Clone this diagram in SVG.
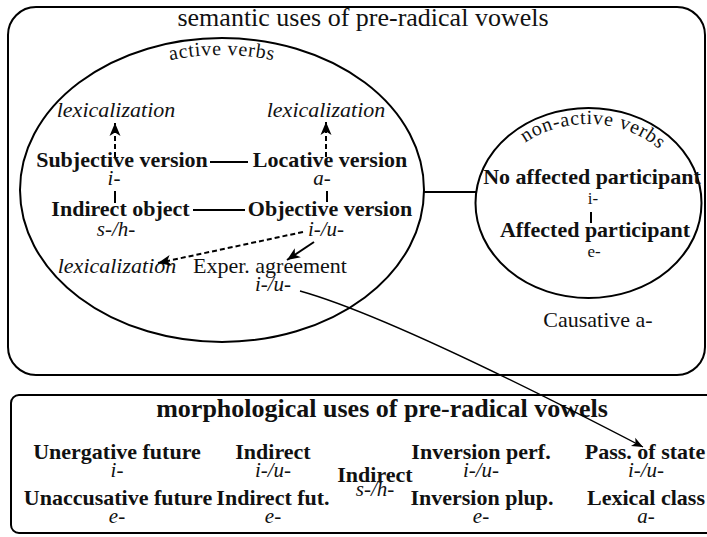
<svg xmlns="http://www.w3.org/2000/svg" width="707" height="537" viewBox="0 0 707 537">
<style>
text{font-family:"Liberation Serif","Times New Roman",serif;fill:#111;text-anchor:middle}
.b{font-weight:bold;font-size:22px}
.i{font-style:italic;font-size:22px}
.r{font-size:22px}
.s{font-size:17px}
.sub{font-style:italic;font-size:21px}
.title{font-size:26px}
.arc{font-size:20px;letter-spacing:0.7px}
.frame{fill:none;stroke:#000;stroke-width:2}
.edge{fill:none;stroke:#000;stroke-width:2}
.dash{stroke-dasharray:5 3}
.curve{fill:none;stroke:#000;stroke-width:1.3}
</style>
<defs>
<marker id="ah" viewBox="-14 -7 15 14" refX="0" refY="0" markerWidth="15" markerHeight="14" orient="auto" markerUnits="userSpaceOnUse"><path d="M0,0 L-13,-5.5 L-9.5,0 L-13,5.5 Z" fill="#000"/></marker>
<marker id="ahs" viewBox="-14 -7 15 14" refX="0" refY="0" markerWidth="14" markerHeight="13" orient="auto" markerUnits="userSpaceOnUse"><path d="M0,0 L-12,-5 L-9,0 L-12,5 Z" fill="#000"/></marker>
<path id="arcA" d="M 36,190 A 186,135 0 0 1 408,190"/>
<path id="arcN" d="M 491,203 A 97,79 0 0 1 685,203"/>
</defs>

<g id="semantic-uses">
<rect class="frame" x="8" y="7" width="697" height="368" rx="28" ry="28"/>
<text class="title" x="363" y="26">semantic uses of pre-radical vowels</text>
</g>

<g id="active-verbs">
<ellipse class="frame" cx="222" cy="190" rx="202" ry="152"/>
<text class="arc"><textPath href="#arcA" startOffset="50%">active verbs</textPath></text>
</g>

<g id="non-active-verbs">
<ellipse class="frame" cx="588.5" cy="203" rx="113" ry="95"/>
<text class="arc"><textPath href="#arcN" startOffset="52%">non-active verbs</textPath></text>
</g>

<g id="lexicalization-1"><text class="i" x="116" y="117">lexicalization</text></g>
<g id="lexicalization-2"><text class="i" x="326" y="117">lexicalization</text></g>
<g id="subjective-version">
<text class="b" x="122" y="167">Subjective version</text>
<text class="sub" x="114" y="185">i-</text>
</g>
<g id="locative-version">
<text class="b" x="330" y="167">Locative version</text>
<text class="sub" x="322" y="185">a-</text>
</g>
<g id="indirect-object">
<text class="b" x="120.5" y="216">Indirect object</text>
<text class="sub" x="116" y="236">s-/h-</text>
</g>
<g id="objective-version">
<text class="b" x="330" y="216">Objective version</text>
<text class="sub" x="326" y="236">i-/u-</text>
</g>
<g id="lexicalization-3"><text class="i" x="117" y="273">lexicalization</text></g>
<g id="exper-agreement">
<text class="r" x="270" y="273">Exper. agreement</text>
<text class="sub" x="273" y="291">i-/u-</text>
</g>
<g id="no-affected-participant">
<text class="b" x="592" y="184">No affected participant</text>
<text class="s" x="593" y="204">i-</text>
</g>
<g id="affected-participant">
<text class="b" x="595" y="237">Affected participant</text>
<text class="s" x="594" y="257">e-</text>
</g>
<g id="causative"><text class="r" x="598" y="327">Causative a-</text></g>

<g id="morphological-uses">
<rect class="frame" x="11" y="395" width="712" height="138" rx="8" ry="8"/>
<text class="title" style="font-weight:bold" x="382" y="417">morphological uses of pre-radical vowels</text>
</g>
<g id="unergative-future">
<text class="b" x="117" y="459">Unergative future</text>
<text class="sub" x="117" y="477">i-</text>
</g>
<g id="unaccusative-future">
<text class="b" x="118" y="505">Unaccusative future</text>
<text class="sub" x="117" y="523">e-</text>
</g>
<g id="indirect">
<text class="b" x="273" y="459">Indirect</text>
<text class="sub" x="273" y="477">i-/u-</text>
</g>
<g id="indirect-fut">
<text class="b" x="273" y="505">Indirect fut.</text>
<text class="sub" x="273" y="523">e-</text>
</g>
<g id="indirect-sh">
<text class="b" x="375" y="482">Indirect</text>
<text class="sub" x="375" y="496">s-/h-</text>
</g>
<g id="inversion-perf">
<text class="b" x="481" y="459">Inversion perf.</text>
<text class="sub" x="481" y="477">i-/u-</text>
</g>
<g id="inversion-plup">
<text class="b" x="482" y="505">Inversion plup.</text>
<text class="sub" x="481" y="523">e-</text>
</g>
<g id="pass-of-state">
<text class="b" x="645" y="459">Pass. of state</text>
<text class="sub" x="646" y="477">i-/u-</text>
</g>
<g id="lexical-class">
<text class="b" x="646" y="505">Lexical class</text>
<text class="sub" x="646" y="523">a-</text>
</g>

<g id="connectors">
<line class="edge" x1="210" y1="162" x2="248" y2="162"/>
<line class="edge" x1="193" y1="210" x2="245" y2="210"/>
<line class="edge" x1="115" y1="191" x2="115" y2="203"/>
<line class="edge" x1="327" y1="191" x2="327" y2="202"/>
<line class="edge" x1="424" y1="192" x2="476" y2="192"/>
<line class="edge" x1="591" y1="212" x2="591" y2="223"/>
<line class="edge dash" x1="115" y1="157" x2="115" y2="123" marker-end="url(#ah)"/>
<line class="edge dash" x1="326" y1="157" x2="326" y2="122" marker-end="url(#ah)"/>
<line class="edge dash" x1="303" y1="232" x2="158" y2="263" marker-end="url(#ah)"/>
<line class="edge" x1="314" y1="242" x2="287" y2="260" marker-end="url(#ah)"/>
<path class="curve" d="M300,291 Q393,317 643,447" marker-end="url(#ahs)"/>
</g>
</svg>
